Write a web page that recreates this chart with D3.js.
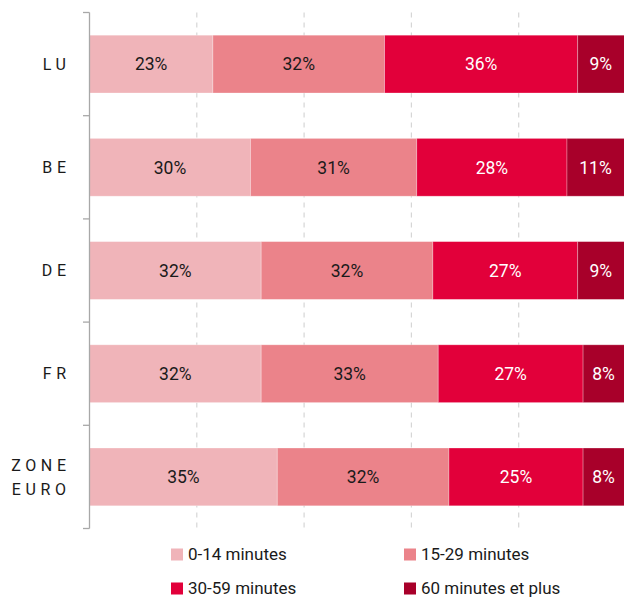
<!DOCTYPE html>
<html>
<head>
<meta charset="utf-8">
<script src="https://cdn.jsdelivr.net/npm/d3@7"></script>
<style>
  body { margin: 0; background: #fff; }
  svg { display: block; font-family: "Roboto", "DejaVu Sans", sans-serif; }
</style>
</head>
<body>
<svg id="chart" width="624" height="597"></svg>
<script>
  // data
  var categories = ["LU", "BE", "DE", "FR", "ZONE EURO"];
  var seriesNames = ["0-14 minutes", "15-29 minutes", "30-59 minutes", "60 minutes et plus"];
  var v0_14  = [23, 30, 32, 32, 35];
  var v15_29 = [32, 31, 32, 33, 32];
  var v30_59 = [36, 28, 27, 27, 25];
  var v60    = [9, 11, 9, 8, 8];
  var gridTicks = [20, 40, 60, 80, 100];

  var colors = ["#f0b4b9", "#eb838a", "#e2003a", "#a8002a"];
  var textColors = ["#1a1a1a", "#1a1a1a", "#ffffff", "#ffffff"];

  var svg = d3.select("#chart");

  var x = d3.scaleLinear().domain([0, 100]).range([89.5, 626]);
  var y = d3.scaleBand().domain(categories).range([12.5, 528.5])
      .paddingInner(0.44).paddingOuter(0.22);

  var rows = categories.map(function(c, i){
    return { cat: c, "0-14 minutes": v0_14[i], "15-29 minutes": v15_29[i],
             "30-59 minutes": v30_59[i], "60 minutes et plus": v60[i] };
  });
  var stacked = d3.stack().keys(seriesNames)(rows);

  // dashed gridlines
  svg.append("g").selectAll("line")
    .data(gridTicks)
    .enter().append("line")
      .attr("x1", function(d){ return x(d); })
      .attr("x2", function(d){ return x(d); })
      .attr("y1", 12.5).attr("y2", 528.5)
      .attr("stroke", "#d6d6d6")
      .attr("stroke-width", 1.2)
      .attr("stroke-dasharray", "5,5");

  // segments
  var layer = svg.append("g").selectAll("g")
    .data(stacked)
    .enter().append("g");

  layer.selectAll("rect")
    .data(function(s){ return s.map(function(d){ d.key = s.key; d.idx = s.index; return d; }); })
    .enter().append("rect")
      .attr("x", function(d){ return x(d[0]); })
      .attr("width", function(d){ return x(d[1]) - x(d[0]); })
      .attr("y", function(d){ return y(d.data.cat); })
      .attr("height", y.bandwidth())
      .attr("fill", function(d){ return colors[d.idx]; })
      .attr("stroke", "rgba(255,255,255,0.35)")
      .attr("stroke-width", 0.8);

  layer.selectAll("text")
    .data(function(s){ return s; })
    .enter().append("text")
      .attr("x", function(d){ return (x(d[0]) + Math.min(x(d[1]), 624)) / 2; })
      .attr("y", function(d){ return y(d.data.cat) + y.bandwidth() / 2; })
      .attr("dy", "0.36em")
      .attr("text-anchor", "middle")
      .attr("font-size", 17.5)
      .attr("fill", function(d){ return textColors[d.idx]; })
      .text(function(d){ return (d[1] - d[0]) + "%"; });

  // left axis line with ticks at band boundaries
  var axisG = svg.append("g");
  axisG.append("line")
    .attr("x1", 89.5).attr("x2", 89.5)
    .attr("y1", y.range()[0]).attr("y2", y.range()[1])
    .attr("stroke", "#a8a8a8").attr("stroke-width", 1.3);
  var boundaries = d3.range(categories.length + 1).map(function(i){ return y.range()[0] + i * y.step(); });
  axisG.selectAll("line.tick")
    .data(boundaries)
    .enter().append("line")
      .attr("class", "tick")
      .attr("x1", 83).attr("x2", 89.5)
      .attr("y1", function(d){ return d; }).attr("y2", function(d){ return d; })
      .attr("stroke", "#a8a8a8").attr("stroke-width", 1.3);

  // category labels
  var ls = 4.6;
  var catLabels = svg.append("g").selectAll("text")
    .data(categories)
    .enter().append("text")
      .attr("text-anchor", "end")
      .attr("font-size", 16)
      .attr("letter-spacing", ls + "px")
      .attr("fill", "#1a1a1a");
  catLabels.each(function(c){
    var words = c.split(" ");
    var cy = y(c) + y.bandwidth() / 2;
    var t = d3.select(this);
    words.forEach(function(w, i){
      t.append("tspan")
        .attr("x", 66 + ls)
        .attr("y", cy + (i - (words.length - 1) / 2) * 24)
        .attr("dy", "0.36em")
        .text(w);
    });
  });

  // legend
  var legendPos = [[171, 548.5], [404, 548.5], [171, 582.5], [404, 582.5]];
  var legend = svg.append("g").selectAll("g")
    .data(seriesNames)
    .enter().append("g")
      .attr("transform", function(d, i){ return "translate(" + legendPos[i][0] + "," + legendPos[i][1] + ")"; });
  legend.append("rect")
    .attr("width", 12).attr("height", 12)
    .attr("fill", function(d, i){ return colors[i]; });
  legend.append("text")
    .attr("x", 17).attr("y", 5.5)
    .attr("dy", "0.36em")
    .attr("font-size", 17)
    .attr("fill", "#1a1a1a")
    .text(function(d){ return d; });
</script>
</body>
</html>
